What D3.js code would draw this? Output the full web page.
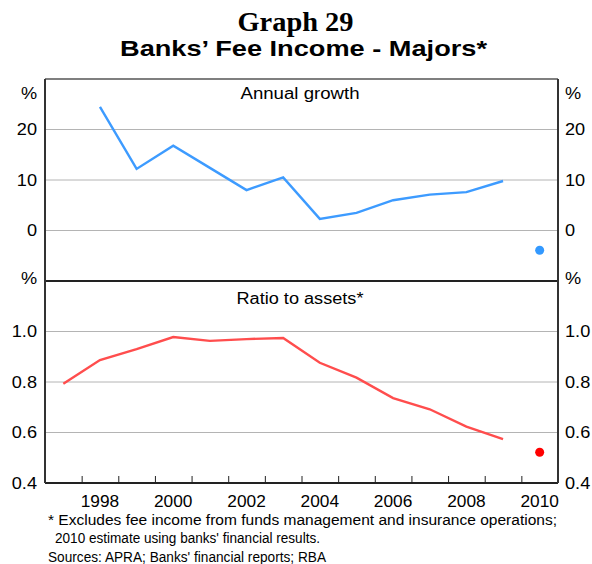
<!DOCTYPE html>
<html><head><meta charset="utf-8">
<script src="https://cdn.jsdelivr.net/npm/d3@7/dist/d3.min.js"></script>
<style>body{margin:0;background:#fff}svg{display:block}</style>
</head><body>
<svg id="c" width="592" height="564"></svg>
<script>
const growthYears = [1998,1999,2000,2001,2002,2003,2004,2005,2006,2007,2008,2009];
const growthValues = [24.5,12.2,16.8,12.4,8.0,10.5,2.3,3.5,6.0,7.1,7.6,9.8];
const growthEstimate = {year:2010, value:-3.9};
const ratioYears = [1997,1998,1999,2000,2001,2002,2003,2004,2005,2006,2007,2008,2009];
const ratioValues = [0.793,0.887,0.930,0.978,0.963,0.970,0.974,0.876,0.817,0.736,0.692,0.623,0.574];
const ratioEstimate = {year:2010, value:0.522};
const growthTicks = [0,10,20];
const ratioTicks = [0.4,0.6,0.8,1.0];
const yearLabels = [1998,2000,2002,2004,2006,2008,2010];

const svg = d3.select("#c");
const L=45, R=558, T=79, MID=281, B=483;
const x = d3.scaleLinear().domain([1997,2011]).range([L,R]);
const yTop = d3.scaleLinear().domain([-10,30]).range([MID,T]);
const yBot = d3.scaleLinear().domain([0.4,1.2]).range([B,MID]);
const font = "Arial, 'Liberation Sans', sans-serif";

function stretch(sel, f){
  sel.each(function(){
    const w = this.getComputedTextLength();
    d3.select(this).attr("textLength", w*f).attr("lengthAdjust","spacingAndGlyphs");
  });
  return sel;
}
function fitTo(sel, w){
  sel.attr("textLength", w).attr("lengthAdjust","spacingAndGlyphs");
  return sel;
}

fitTo(svg.append("text").attr("x",295.5).attr("y",31).attr("text-anchor","middle")
  .attr("font-family","'Liberation Serif','Times New Roman',serif").attr("font-weight","bold").attr("font-size",27).text("Graph 29"),116);
fitTo(svg.append("text").attr("x",303.5).attr("y",56).attr("text-anchor","middle")
  .attr("font-family",font).attr("font-weight","bold").attr("font-size",22).text("Banks’ Fee Income - Majors*"),367);

// gridlines
const g = svg.append("g");
g.selectAll(".gt").data([0,10,20]).join("line").attr("class","gt")
  .attr("x1",L).attr("x2",R).attr("y1",d=>yTop(d)).attr("y2",d=>yTop(d)).attr("stroke","#b4b4b4").attr("stroke-width",1);
g.selectAll(".gb").data([0.6,0.8,1.0]).join("line").attr("class","gb")
  .attr("x1",L).attr("x2",R).attr("y1",d=>yBot(d)).attr("y2",d=>yBot(d)).attr("stroke","#b4b4b4").attr("stroke-width",1);

// lines
const lineTop = d3.line().x((d,i)=>x(growthYears[i]+0.5)).y(d=>yTop(d));
svg.append("path").attr("d",lineTop(growthValues)).attr("fill","none").attr("stroke","#3d9bff").attr("stroke-width",2.4);
svg.append("circle").attr("cx",x(growthEstimate.year+0.5)).attr("cy",yTop(growthEstimate.value)).attr("r",4.5).attr("fill","#3399ff");
const lineBot = d3.line().x((d,i)=>x(ratioYears[i]+0.5)).y(d=>yBot(d));
svg.append("path").attr("d",lineBot(ratioValues)).attr("fill","none").attr("stroke","#ff4d4d").attr("stroke-width",2.4);
svg.append("circle").attr("cx",x(ratioEstimate.year+0.5)).attr("cy",yBot(ratioEstimate.value)).attr("r",4.5).attr("fill","#ff0000");

// frame
svg.append("line").attr("x1",L).attr("x2",R).attr("y1",T).attr("y2",T).attr("stroke","#555").attr("stroke-width",1.5);
svg.append("line").attr("x1",L).attr("x2",R).attr("y1",MID).attr("y2",MID).attr("stroke","#222").attr("stroke-width",2);
svg.append("line").attr("x1",L).attr("x2",R).attr("y1",B).attr("y2",B).attr("stroke","#222").attr("stroke-width",2);
svg.append("line").attr("x1",L).attr("x2",L).attr("y1",T).attr("y2",B).attr("stroke","#333").attr("stroke-width",2);
svg.append("line").attr("x1",R).attr("x2",R).attr("y1",T).attr("y2",B).attr("stroke","#333").attr("stroke-width",2);

// x ticks
const xAxis = d3.axisBottom(x).tickValues(d3.range(1998,2011)).tickSize(-7).tickFormat("");
const xa = svg.append("g").attr("transform",`translate(0,${B})`).call(xAxis);
xa.select(".domain").remove();
xa.selectAll("line").attr("stroke","#222").attr("stroke-width",1);
stretch(svg.selectAll(".yl").data(yearLabels).join("text").attr("class","yl")
  .attr("x",d=>x(d+0.5)).attr("y",507).attr("text-anchor","middle")
  .attr("font-family",font).attr("font-size",16).text(d=>d),1.08);

// y labels
function ylab(ticks, scale, fmt){
  ticks.forEach(t=>{
    stretch(svg.append("text").attr("x",37).attr("y",scale(t)).attr("dy","0.36em").attr("text-anchor","end")
      .attr("font-family",font).attr("font-size",16.5).text(fmt(t)),1.1);
    stretch(svg.append("text").attr("x",565).attr("y",scale(t)).attr("dy","0.36em").attr("text-anchor","start")
      .attr("font-family",font).attr("font-size",16.5).text(fmt(t)),1.1);
  });
}
ylab(growthTicks, yTop, d=>d3.format("d")(d));
ylab(ratioTicks, yBot, d=>d3.format(".1f")(d));
[93,278].forEach(yy=>{
  stretch(svg.append("text").attr("x",29).attr("y",yy).attr("dy","0.36em").attr("text-anchor","middle").attr("font-family",font).attr("font-size",16.5).text("%"),1.1);
  stretch(svg.append("text").attr("x",573).attr("y",yy).attr("dy","0.36em").attr("text-anchor","middle").attr("font-family",font).attr("font-size",16.5).text("%"),1.1);
});

// panel titles
fitTo(svg.append("text").attr("x",300).attr("y",99).attr("text-anchor","middle").attr("font-family",font).attr("font-size",16).text("Annual growth"),119);
fitTo(svg.append("text").attr("x",300).attr("y",304).attr("text-anchor","middle").attr("font-family",font).attr("font-size",16).text("Ratio to assets*"),127);

// footnotes
const notes = [["* Excludes fee income from funds management and insurance operations;",48,525,509],
  ["2010 estimate using banks' financial results.",55,543,265],["Sources: APRA; Banks' financial reports; RBA",48,562,278]];
notes.forEach(([t,xx,yy,w])=>fitTo(svg.append("text").attr("x",xx).attr("y",yy).attr("font-family",font).attr("font-size",14).text(t),w));
</script>
</body></html>
